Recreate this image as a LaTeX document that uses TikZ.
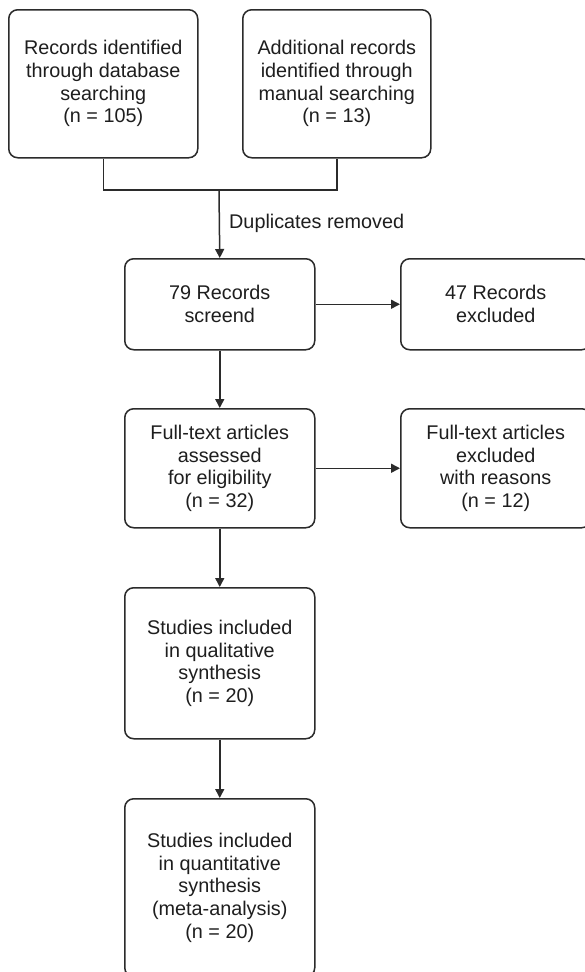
\documentclass[tikz,border=0pt]{standalone}
\usepackage{fontspec}
\setmainfont{Liberation Sans}
\usetikzlibrary{arrows.meta}
\definecolor{linec}{HTML}{2B2B2B}
\definecolor{textc}{HTML}{1E1E1E}
\begin{document}
\begin{tikzpicture}[x=1pt,y=-1pt,
  box/.style={draw=linec, line width=1.5pt, rounded corners=9pt, fill=white,
    align=center, text=textc, inner sep=0pt, minimum width=#1, anchor=north west,
    font=\fontsize{19.8}{22.7}\selectfont},
  box/.default=190pt,
  conn/.style={draw=linec, line width=1.5pt},
  arr/.style={conn, -{Triangle[length=9pt,width=9pt]}},
  lbl/.style={text=textc, inner sep=0pt, font=\fontsize{19.8}{22.7}\selectfont}]
\useasboundingbox (0,0) rectangle (585,972);
\clip (0,0) rectangle (585,972);
\fill[white] (0,0) rectangle (585,972);
% boxes
\node[box=189pt, minimum height=148pt] (b1) at (8,9) {Records identified\\through database\\searching\\(n = 105)};
\node[box=188pt, minimum height=148pt] (b2) at (242,9) {Additional records\\identified through\\manual searching\\(n = 13)};
\node[box, minimum height=91pt] (b3) at (124,258) {79 Records\\screend};
\node[box, minimum height=91pt] (b4) at (400,258) {47 Records\\excluded};
\node[box, minimum height=119pt] (b5) at (124,408) {Full-text articles\\assessed\\for eligibility\\(n = 32)};
\node[box, minimum height=119pt] (b6) at (400,408) {Full-text articles\\excluded\\with reasons\\(n = 12)};
\node[box, minimum height=151pt] (b7) at (124,587) {Studies included\\in qualitative\\synthesis\\(n = 20)};
\node[box, minimum height=178pt] (b8) at (124,798) {Studies included\\in quantitative\\synthesis\\(meta-analysis)\\(n = 20)};
% connectors
\coordinate (j) at (219,190);
\draw[conn] (b1.south) |- (j) -| (b2.south);
\draw[arr] (j) -- (b3.north);
\node[lbl, anchor=west] (dup) at (229,223) {Duplicates removed};
\draw[arr] (b3.east) -- (b4.west);
\draw[arr] (b3.south) -- (b5.north);
\draw[arr] (b5.east) -- (b6.west);
\draw[arr] (b5.south) -- (b7.north);
\draw[arr] (b7.south) -- (b8.north);
\end{tikzpicture}
\end{document}
